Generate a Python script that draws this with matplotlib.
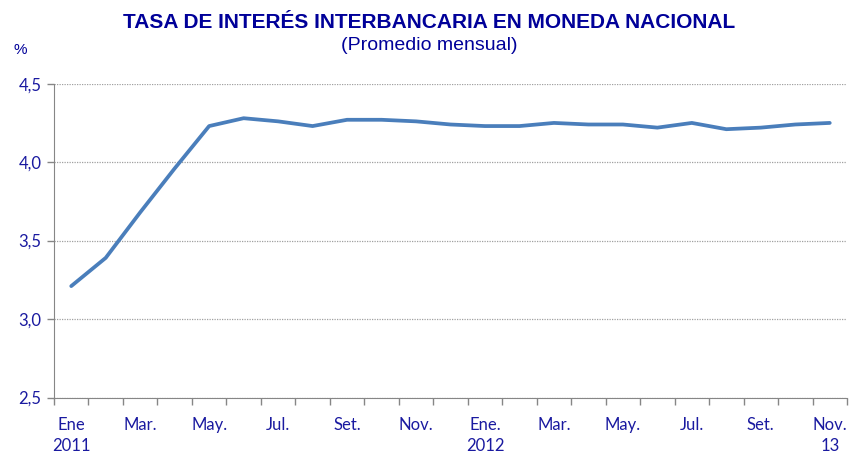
import matplotlib
matplotlib.use("Agg")
import matplotlib.pyplot as plt
from matplotlib.ticker import FixedLocator, FuncFormatter

months = ["Ene 2011", "Feb", "Mar.", "Abr", "May.", "Jun", "Jul.", "Ago", "Set.", "Oct", "Nov.", "Dic",
          "Ene. 2012", "Feb", "Mar.", "Abr", "May.", "Jun", "Jul.", "Ago", "Set.", "Oct", "Nov."]
values = [3.21, 3.39, 3.68, 3.96, 4.23, 4.28, 4.26, 4.23, 4.27, 4.27, 4.26, 4.24,
          4.23, 4.23, 4.25, 4.24, 4.24, 4.22, 4.25, 4.21, 4.22, 4.24, 4.25]
tick_labels = ["Ene\n2011", "Mar.", "May.", "Jul.", "Set.", "Nov.", "Ene.\n2012",
               "Mar.", "May.", "Jul.", "Set.", "Nov.\n13"]
y_ticks = [2.5, 3.0, 3.5, 4.0, 4.5]

navy = "#1a1aa0"
title_col = "#000099"
line_col = "#4a7ebb"

fig = plt.figure(figsize=(8.5, 4.59), dpi=100)
ax = fig.add_axes([54/850, 1-397.5/459, (847-54)/850, (397.5-83.7)/459])

x = list(range(len(values)))
ax.plot(x, values, color=line_col, lw=2.7, solid_capstyle="round", solid_joinstyle="round")

ax.set_xlim(-0.5, len(values) - 0.5)
ax.set_ylim(2.5, 4.5)
ax.set_yticks(y_ticks)
ax.yaxis.set_major_formatter(FuncFormatter(lambda v, p: f"{v:.1f}".replace(".", ",")))
ax.yaxis.grid(True, color="#a0a0a0", linestyle=(0, (1, 1)), lw=0.9)
ax.set_axisbelow(True)

# category boundary ticks
ax.xaxis.set_major_locator(FixedLocator([i - 0.5 for i in range(len(values) + 1)]))
ax.xaxis.set_major_formatter(FuncFormatter(lambda v, p: ""))
ax.xaxis.set_minor_locator(FixedLocator(list(range(0, len(values), 2))))
ax.set_xticklabels(tick_labels, minor=True)
ax.tick_params(axis="x", which="major", length=5, color="#868686", width=1)
ax.tick_params(axis="x", which="minor", length=0, pad=14, labelsize=12, labelcolor=navy)
ax.tick_params(axis="y", length=5, color="#868686", width=1, labelsize=12, labelcolor=navy, pad=4)
for lab in ax.get_xticklabels(minor=True):
    lab.set_linespacing(1.4)
    lab.set_family(["Lato", "DejaVu Sans"])
for lab in ax.get_yticklabels():
    lab.set_family(["Lato", "DejaVu Sans"])

for s in ["top", "right"]:
    ax.spines[s].set_visible(False)
ax.spines["left"].set_color("#868686")
ax.spines["bottom"].set_color("#868686")

fam = ["Liberation Sans", "DejaVu Sans"]
fig.text(429/850, 1 - 22/459, "TASA DE INTERÉS INTERBANCARIA EN MONEDA NACIONAL",
         ha="center", va="center", fontsize=15, fontweight="bold", color=title_col, family=fam)
fig.text(429/850, 1 - 46/459, "(Promedio mensual)", ha="center", va="center",
         fontsize=14, color=title_col, family=fam)
fig.text(20/850, 1 - 50/459, "%", ha="center", va="center", fontsize=11, color=title_col, family=fam)

fig.savefig("out.png", dpi=100)
